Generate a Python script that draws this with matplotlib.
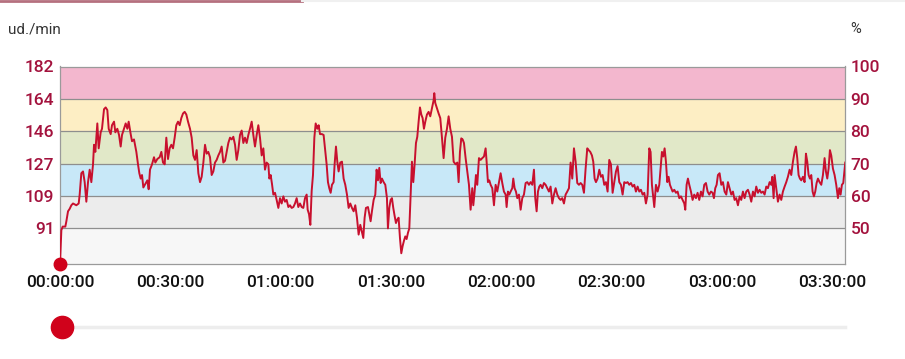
import matplotlib
matplotlib.use("Agg")
import matplotlib.pyplot as plt
from matplotlib.lines import Line2D

plt.rcParams['font.family'] = ['Roboto', 'DejaVu Sans']

# frecuencia cardiaca maxima y zonas (% de FC max)
FC_MAX = 182
pct_min = 0.39
zonas_pct = [0.5, 0.6, 0.7, 0.8, 0.9, 1.0]
colores_zona = ['#f7f7f7', '#ececec', '#c8e8f8', '#e1e8c8', '#fdeec4', '#f3b7ce']
etiquetas_pct = ['50', '60', '70', '80', '90', '100']

ticks_x = [0, 30, 60, 90, 120, 150, 180, 210]
etiquetas_x = ['00:00:00', '00:30:00', '01:00:00', '01:30:00',
               '02:00:00', '02:30:00', '03:00:00', '03:30:00']

# (minuto, ud./min)
tramo_1 = [(0, 71), (0.37, 90), (0.73, 92), (1.45, 92), (1.73, 95), (2.18, 100.6), (2.63, 102),
           (3.09, 104), (3.54, 105), (4.44, 104), (5.08, 105), (5.35, 110), (5.80, 122), (6.26, 123),
           (6.71, 117), (7.16, 106), (7.62, 117), (8.07, 124), (8.52, 117), (8.98, 127), (9.25, 138),
           (9.61, 134), (10.15, 150), (10.52, 136), (11.06, 145), (11.42, 147), (11.97, 158),
           (12.42, 159), (12.87, 157.5), (13.24, 147), (13.78, 144), (14.14, 149), (14.69, 151),
           (15.05, 145), (15.59, 147), (16.05, 143.5), (16.50, 137), (16.86, 143.5), (17.40, 147),
           (17.86, 150), (18.31, 147), (18.67, 151), (19.22, 144), (19.58, 140), (20.12, 141),
           (20.76, 134), (21.21, 127), (21.57, 122), (21.94, 119), (22.30, 121), (22.66, 114),
           (23.21, 116), (23.75, 118), (24.11, 113), (24.47, 124), (25.02, 127), (25.56, 131),
           (25.92, 128), (26.47, 130), (27.10, 131), (27.56, 134), (28.01, 128), (28.46, 127),
           (28.91, 142), (29.37, 130), (29.82, 136), (30.27, 138), (30.73, 136), (31.18, 142),
           (31.63, 149), (32.09, 151), (32.54, 149), (32.99, 153), (33.45, 155.6), (33.90, 156.5),
           (34.35, 155), (34.81, 151)]
tramo_2 = [(35.35, 147), (35.80, 142), (36.26, 132), (36.71, 129.5), (37.16, 135), (37.62, 122),
           (38.07, 117), (38.52, 120), (38.98, 128), (39.43, 138), (39.88, 133), (40.33, 134),
           (40.79, 131), (41.24, 121), (41.69, 123), (42.15, 128), (42.60, 129.5), (43.05, 132),
           (43.51, 134), (43.96, 137), (44.41, 128), (44.87, 129), (45.32, 134), (45.77, 139),
           (46.23, 142), (46.68, 141), (47.13, 142.5), (47.59, 138), (48.04, 129.5), (48.49, 135),
           (48.94, 143.5), (49.40, 146), (49.85, 139), (50.30, 142), (50.76, 139), (51.21, 143.5),
           (51.66, 147), (52.12, 151), (52.57, 143.5), (53.02, 137), (53.48, 143.5), (53.93, 149),
           (54.38, 142), (54.84, 132), (55.29, 136), (55.74, 124), (56.19, 128), (56.65, 127),
           (56.92, 119), (57.28, 121), (57.64, 116), (58.01, 110), (58.46, 111), (58.91, 107),
           (59.37, 102.5), (59.82, 108), (60.27, 105), (60.73, 109), (61.18, 106), (61.63, 107),
           (62.09, 103), (62.54, 104), (62.99, 102.5), (63.45, 103), (63.90, 105), (64.35, 108),
           (64.80, 103), (65.26, 105), (65.71, 103), (66.16, 102.5), (66.62, 108), (67.07, 110),
           (67.34, 101.5), (67.71, 99), (68.07, 93), (68.43, 112), (68.79, 121), (69.16, 142),
           (69.52, 150), (69.97, 147), (70.33, 149), (70.70, 144)]
tramo_3 = [(71.23, 144), (71.68, 143.5), (72.14, 134), (72.50, 127), (72.86, 117), (73.22, 113.6),
           (73.59, 111), (73.95, 115.5), (74.40, 117), (74.67, 127), (75.04, 137), (75.40, 128.5),
           (75.76, 123), (76.21, 128), (76.67, 128.5), (77.12, 119), (77.57, 115.5), (78.03, 110),
           (78.48, 102.5), (78.93, 105), (79.39, 102.5), (79.84, 100.6), (80.29, 104), (80.75, 97),
           (81.20, 87.5), (81.65, 93), (82.11, 89), (82.47, 85.6), (82.83, 97), (83.19, 102.5),
           (83.74, 103), (84.10, 99), (84.46, 95), (84.82, 100.6), (85.28, 107), (85.73, 110),
           (86.09, 124), (86.46, 118), (86.82, 125), (87.18, 116.5), (87.54, 119), (88.00, 117),
           (88.45, 115.5), (88.90, 108), (89.17, 91), (89.54, 102.5), (89.90, 107), (90.26, 108),
           (90.62, 102.5), (90.99, 98), (91.35, 94), (91.71, 96), (92.07, 97), (92.44, 85.6),
           (92.80, 77), (93.16, 81), (93.52, 84), (93.89, 86.5), (94.25, 85), (94.61, 88.5),
           (94.98, 91), (95.34, 110), (95.70, 128.5), (96.06, 117), (96.42, 127), (96.79, 139),
           (97.15, 142.5), (97.51, 151), (97.88, 159), (98.24, 155), (98.60, 153), (98.96, 147),
           (99.33, 151), (99.78, 155), (100.23, 156.5), (100.68, 154), (101.14, 158.5), (101.59, 163),
           (101.77, 167), (102.04, 161.5), (102.50, 158.5), (102.95, 155.6), (103.40, 153),
           (103.86, 142), (104.31, 130.5), (104.76, 142), (105.22, 147), (105.67, 154), (106.12, 147),
           (106.58, 142.5), (107.03, 128.5)]
tramo_4 = [(107.57, 127), (108.03, 128), (108.39, 117), (108.75, 134), (109.11, 141.6), (109.48, 141),
           (109.84, 139), (110.29, 130.5), (110.75, 123), (111.20, 115.5), (111.65, 101.5),
           (112.10, 113.6), (112.38, 104), (112.74, 111.7), (113.10, 121), (113.46, 115.5),
           (113.92, 130.5), (114.37, 129.5), (114.82, 130.5), (115.28, 131.4), (115.73, 136),
           (116.00, 128.5), (116.36, 117), (116.73, 118), (117.09, 115.5), (117.54, 113.6),
           (118.00, 104), (118.45, 115.5), (118.90, 111.7), (119.36, 117), (119.81, 122),
           (120.26, 116.5), (120.71, 111.7), (121.17, 110), (121.44, 103), (121.80, 111.7),
           (122.16, 110), (122.53, 111.7), (122.98, 113.6), (123.25, 119), (123.61, 113.6),
           (123.98, 111.7), (124.34, 108), (124.79, 110), (125.25, 101.5), (125.70, 108),
           (126.15, 110), (126.61, 116.5), (127.06, 117), (127.51, 115.5), (127.96, 117),
           (128.42, 115.5), (128.87, 124), (129.23, 108), (129.60, 100.6), (129.96, 111.7),
           (130.32, 114.5), (130.68, 115.5), (131.14, 113.6), (131.59, 116.5), (132.04, 115.5),
           (132.50, 113.6), (132.95, 111.7), (133.40, 114.5), (133.86, 105), (134.31, 110),
           (134.76, 113.6), (135.22, 110), (135.67, 108), (136.12, 107), (136.57, 108), (137.03, 105),
           (137.48, 110), (137.93, 111.7), (138.39, 113.6), (138.84, 128), (139.29, 119), (139.75, 136),
           (140.20, 128.5), (140.65, 116.5), (141.11, 115.5), (141.56, 116.5), (142.01, 115.5),
           (142.47, 111), (142.92, 124.6)]
tramo_5 = [(143.37, 136), (143.74, 135), (144.19, 134), (144.64, 132), (145.00, 128.5), (145.37, 119),
           (145.73, 117), (146.18, 119), (146.64, 124), (147.09, 120), (147.54, 121), (147.99, 115.5),
           (148.45, 117), (148.90, 111.7), (149.35, 129.5), (149.81, 127), (150.26, 111), (150.71, 117),
           (151.17, 123), (151.62, 126), (152.07, 117), (152.53, 115.5), (152.98, 110), (153.43, 117),
           (153.89, 116.5), (154.34, 117), (154.79, 115.5), (155.25, 116.5), (155.70, 114.5),
           (156.15, 115.5), (156.60, 111.7), (157.06, 114.5), (157.51, 111.7), (157.96, 112.7),
           (158.42, 110), (158.87, 111), (159.32, 105), (159.78, 110), (160.23, 136), (160.59, 134),
           (160.95, 115.5), (161.32, 108), (161.59, 103), (162.04, 115.5), (162.50, 111.7),
           (162.95, 115.5), (163.40, 127), (163.67, 134), (164.04, 131.4), (164.40, 136),
           (164.76, 128.5), (165.12, 117), (165.49, 120), (165.85, 115.5), (166.21, 113.6),
           (166.57, 111.7), (167.03, 112.7), (167.48, 111), (167.93, 111.7), (168.39, 108),
           (168.84, 109), (169.29, 107), (169.75, 105), (170.02, 101.5), (170.38, 115.5), (170.74, 119),
           (171.11, 115.5), (171.56, 111.7), (172.01, 107), (172.46, 110), (172.92, 108), (173.37, 111),
           (173.82, 107), (174.28, 111.7), (174.73, 109), (175.18, 115.5), (175.64, 116.5),
           (176.09, 111.7), (176.54, 110), (177.00, 111.7), (177.45, 111), (177.81, 108),
           (178.17, 113.6), (178.54, 115.5)]
tramo_6 = [(178.90, 121), (179.35, 122), (179.81, 115.5), (180.26, 117), (180.71, 111.7), (181.17, 110),
           (181.62, 117), (182.07, 113.6), (182.53, 110), (182.98, 111.7), (183.43, 107), (183.88, 108),
           (184.34, 104), (184.79, 109), (185.24, 107), (185.70, 111.7), (186.15, 108), (186.60, 111.7),
           (187.06, 112.7), (187.51, 110), (187.96, 106), (188.42, 111.7), (188.87, 109), (189.32, 114.5),
           (189.78, 111), (190.23, 112.7), (190.68, 111), (191.14, 111.7), (191.59, 110), (192.04, 114.5),
           (192.49, 113.6), (192.95, 117), (193.40, 115.5), (193.67, 120), (194.04, 108), (194.31, 121),
           (194.76, 113.6), (195.21, 106), (195.67, 110), (196.12, 107), (196.57, 111.7), (197.03, 114.5),
           (197.48, 117), (197.93, 120), (198.39, 124), (198.84, 121), (199.29, 128.5), (199.74, 134),
           (200.11, 137), (200.47, 130.5), (200.83, 121), (201.19, 119), (201.56, 118), (202.01, 120),
           (202.46, 117), (202.83, 133), (203.19, 128.5), (203.55, 121), (203.91, 119), (204.28, 121),
           (204.64, 111.7), (205.00, 109), (205.36, 111.7), (205.73, 116.5), (206.09, 119), (206.54, 117),
           (207.00, 115.5), (207.45, 121), (207.90, 130.5), (208.26, 123), (208.63, 119), (208.99, 124.6),
           (209.35, 135), (209.71, 132), (210.17, 124.6), (210.62, 121), (211.07, 115.5), (211.53, 108),
           (211.89, 113.6), (212.25, 110), (212.61, 115.5), (212.98, 116.5), (213.34, 124.6),
           (213.52, 128)]

serie = tramo_1 + tramo_2 + tramo_3 + tramo_4 + tramo_5 + tramo_6
minutos = [p[0] for p in serie]
pulso = [p[1] for p in serie]

W, H = 905, 359
fig = plt.figure(figsize=(W / 100, H / 100), dpi=100)
fig.patch.set_facecolor('white')
ax = fig.add_axes([60 / W, 1 - 264 / H, 785 / W, 197.5 / H])

limites = [pct_min] + zonas_pct
for i, c in enumerate(colores_zona):
    ax.axhspan(limites[i] * FC_MAX, limites[i + 1] * FC_MAX, color=c, lw=0, zorder=0)
for p in zonas_pct:
    ax.axhline(p * FC_MAX, color='#8e8e8e', lw=0.9, zorder=1)

ax.plot(minutos, pulso, color='#c8102e', lw=1.4, zorder=3)
ax.plot(minutos[0], pulso[0], 'o', ms=9, color='#d0021b', clip_on=False, zorder=5)

ax.set_xlim(0, 213.45)
ax.set_ylim(pct_min * FC_MAX, FC_MAX)
ax.set_xticks(ticks_x)
ax.set_xticklabels(etiquetas_x, fontweight='medium')
ax.set_yticks([p * FC_MAX for p in zonas_pct])
ax.set_yticklabels([str(round(p * FC_MAX)) for p in zonas_pct], fontweight='medium')
ax.tick_params(axis='x', length=0, pad=8, labelsize=12.5, labelcolor='#111111')
ax.tick_params(axis='y', length=0, pad=4, labelsize=12.5, labelcolor='#a3123d')
for s in ax.spines.values():
    s.set_color('#9a9a9a')
    s.set_linewidth(0.9)

ax2 = ax.twinx()
ax2.set_ylim(pct_min * 100, 100)
ax2.set_yticks([float(e) for e in etiquetas_pct])
ax2.set_yticklabels(etiquetas_pct, fontweight='medium')
ax2.tick_params(axis='y', length=0, pad=4, labelsize=12.5, labelcolor='#a3123d')
for s in ax2.spines.values():
    s.set_visible(False)

fig.text(8 / W, 1 - 29 / H, 'ud./min', va='center', ha='left', fontsize=11, color='#333333')
fig.text(856 / W, 1 - 29 / H, '%', va='center', ha='center', fontsize=10.5, color='#333333')

# pestaña superior
fig.add_artist(Line2D([0, 302 / W], [1 - 1 / H] * 2, color='#b5707f', lw=2))
fig.add_artist(Line2D([302 / W, 1], [1 - 1 / H] * 2, color='#f0f0f0', lw=1.5))

# deslizador
fig.add_artist(Line2D([62 / W, 845 / W], [1 - 327 / H] * 2, color='#ededed', lw=2.5))
fig.add_artist(Line2D([62 / W], [1 - 327 / H], marker='o', ms=16, color='#d0021b', lw=0))

fig.savefig('out.png', dpi=100)
